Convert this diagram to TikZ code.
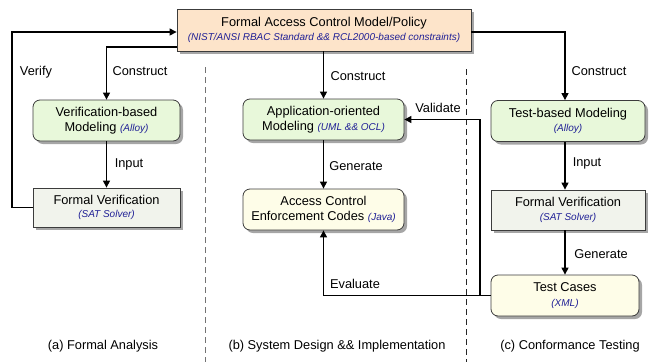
\documentclass[tikz,border=0pt]{standalone}
\usepackage{fontspec}
\setmainfont{Liberation Sans}
\usetikzlibrary{arrows.meta,calc,shadows}
\definecolor{peach}{HTML}{FDE4CA}
\definecolor{lgreen}{HTML}{E8F8DA}
\definecolor{lgray}{HTML}{F1F3EC}
\definecolor{cream}{HTML}{FEFDE8}
\definecolor{bord}{HTML}{3C3C3C}
\definecolor{navy}{HTML}{202096}
\newcommand{\sub}[1]{{\fontsize{10}{12}\selectfont\itshape\color{navy}#1}}
\begin{document}
\begin{tikzpicture}[x=1pt,y=-1pt,
  box/.style={draw=bord,line width=0.8pt,align=center,inner sep=0pt,
    font=\fontsize{12.8}{15.5}\selectfont,
    drop shadow={shadow xshift=3pt,shadow yshift=-3pt,fill=black!35,opacity=1}},
  rbox/.style={box,rounded corners=7pt},
  arr/.style={line width=1.1pt,-{Triangle[length=7pt,width=7pt]}},
  lab/.style={font=\fontsize{12.8}{15.5}\selectfont,inner sep=0pt},
  divider/.style={dashed,line width=1pt,dash pattern=on 6pt off 4pt}]
\useasboundingbox (0,0) rectangle (651,362);
% dividers
\coordinate (d1t) at (205,67); \coordinate (d1b) at (205,362);
\coordinate (d2t) at (466,69); \coordinate (d2b) at (466,362);
\draw[divider,draw=black!55] (d1t) -- (d1b);
\draw[divider,draw=black!85] (d2t) -- (d2b);
% boxes
\node[box,fill=peach,minimum width=294pt,minimum height=42pt] (top) at (324,30)
  {Formal Access Control Model/Policy\\[-2pt]\sub{(NIST/ANSI RBAC Standard \&\& RCL2000-based constraints)}};
\node[rbox,fill=lgreen,minimum width=147pt,minimum height=41pt] (vbm) at (106.5,120.5)
  {Verification-based\\Modeling \sub{(Alloy)}};
\node[box,fill=lgray,minimum width=147pt,minimum height=39pt] (fvl) at (106.5,207.5)
  {Formal Verification\\[-2pt]\sub{(SAT Solver)}};
\node[rbox,fill=lgreen,minimum width=161pt,minimum height=41pt] (aom) at (323.5,119.5)
  {Application-oriented\\Modeling \sub{(UML \&\& OCL)}};
\node[rbox,fill=cream,minimum width=161pt,minimum height=41pt] (acec) at (323.5,209.5)
  {Access Control\\Enforcement Codes \sub{(Java)}};
\node[rbox,fill=lgreen,minimum width=154pt,minimum height=41pt] (tbm) at (568,121)
  {Test-based Modeling\\[-1pt]\sub{(Alloy)}};
\node[box,fill=lgray,minimum width=154pt,minimum height=40pt] (fvr) at (568,210)
  {Formal Verification\\[-2pt]\sub{(SAT Solver)}};
\node[rbox,fill=cream,minimum width=148pt,minimum height=41pt] (tc) at (565,295.5)
  {Test Cases\\[-1pt]\sub{(XML)}};
% connectors
\coordinate (vl) at (12,0);
\draw[arr] (fvl.west) -- (fvl.west -| vl) |- ([yshift=-2pt]top.west);
\draw[arr] ([yshift=-17pt]top.west) -| (vbm.north);
\draw[arr] (top.south -| aom.north) -- (aom.north);
\draw[arr] ([yshift=-2pt]top.east) -| (tbm.north -| tc.north);
\draw[arr] (vbm.south) -- (fvl.north);
\draw[arr] (aom.south) -- (acec.north);
\draw[arr] (tbm.south -| tc.north) -- (fvr.north -| tc.north);
\draw[arr] (fvr.south -| tc.north) -- (tc.north);
\draw[arr] (tc.west) -| (acec.south);
\coordinate (vx) at (480,0);
\draw[arr] (tc.west -| vx) |- (aom.east);
% labels
\node[lab] (lverify) at (36,72) {Verify};
\node[lab] (lc1) at (140,71) {Construct};
\node[lab] (lc2) at (358,76) {Construct};
\node[lab] (lc3) at (599,71) {Construct};
\node[lab] (li1) at (129,164) {Input};
\node[lab] (lval) at (438,108) {Validate};
\node[lab] (lg1) at (356,166) {Generate};
\node[lab] (li2) at (587,163) {Input};
\node[lab] (lg2) at (601,254) {Generate};
\node[lab] (lev) at (355,284) {Evaluate};
\node[lab] (ca) at (103,346) {(a) Formal Analysis};
\node[lab] (cb) at (337,346) {(b) System Design \&\& Implementation};
\node[lab] (cc) at (570,346) {(c) Conformance Testing};
\end{tikzpicture}
\end{document}
